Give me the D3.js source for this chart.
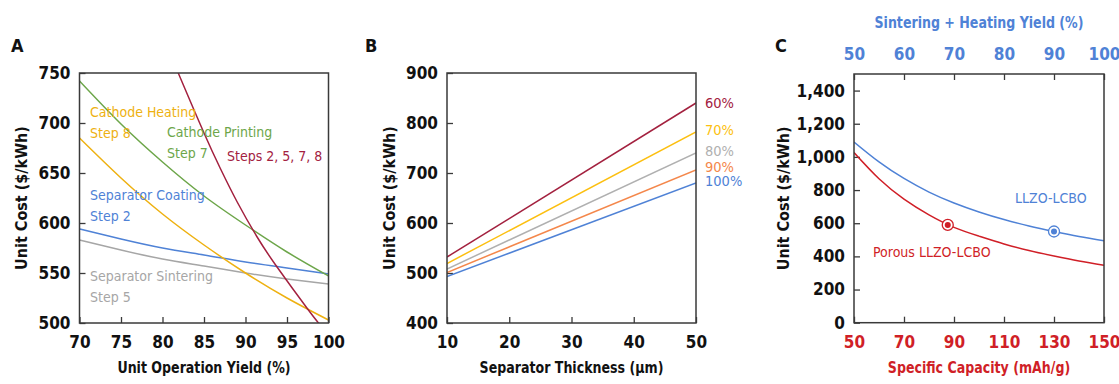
<!DOCTYPE html>
<html>
<head>
<meta charset="utf-8">
<title>Unit cost sensitivity</title>
<style>
  body { margin: 0; background: #fff; }
  svg text { font-family: "DejaVu Sans Condensed", "Liberation Sans Narrow", sans-serif; }
</style>
</head>
<body>
<script src="https://cdn.jsdelivr.net/npm/d3@7"></script>
<script>
// ---- Panel A: unit operation yield ----
const yieldA = [70, 75, 80, 85, 90, 95, 100];
const cathodeHeating = [685, 645, 609, 578, 550, 525, 503];
const cathodePrinting = [742, 699, 661, 627, 598, 571, 547];
const separatorCoating = [594, 584, 575, 568, 561, 555, 549];
const separatorSintering = [583, 573, 564, 557, 550, 544, 539];
const stepsYield = [81.5, 82, 85, 87, 89, 91.4, 93.8, 97.4, 98.8, 99.5];
const stepsAll = [758, 748, 690, 654, 621, 586, 556, 515, 500, 493];
const ticksAX = [70, 75, 80, 85, 90, 95, 100];
const ticksAY = [500, 550, 600, 650, 700, 750];

// ---- Panel B: separator thickness ----
const thickness = [10, 50];
const yieldLabelsB = ["60%", "70%", "80%", "90%", "100%"];
const costB60 = [532, 840];
const costB70 = [519, 782];
const costB80 = [508, 740];
const costB90 = [501, 706];
const costB100 = [493, 680];
const ticksBX = [10, 20, 30, 40, 50];
const ticksBY = [400, 500, 600, 700, 800, 900];

// ---- Panel C: specific capacity ----
const capacity = [50, 60, 70, 80, 90, 100, 110, 120, 130, 140, 150];
const costLLZO = [1090, 970, 870, 788, 722, 668, 622, 583, 550, 520, 494];
const costPorous = [1026, 868, 745, 650, 575, 522, 475, 435, 402, 372, 346];
const markLLZO = [130, 550];
const markPorous = [87.5, 590];
const ticksCX = [50, 70, 90, 110, 130, 150];
const ticksCTop = [50, 60, 70, 80, 90, 100];
const ticksCY = [0, 200, 400, 600, 800, 1000, 1200, 1400];

const W = 1119, H = 384;
const svg = d3.select("body").append("svg")
  .attr("width", W).attr("height", H)
  .style("display", "block");
svg.append("rect").attr("width", W).attr("height", H).attr("fill", "#fff");

const axisColor = "#3a3a3a";
const tickFont = 17;
const squeeze = 0.85; // titles use a narrow face in the original

function title(g, x, y, text, color, rotate) {
  g.append("text")
    .attr("transform", `translate(${x},${y})` + (rotate ? " rotate(-90)" : "") + ` scale(${squeeze},1)`)
    .attr("text-anchor", "middle").attr("font-size", 16.5).attr("font-weight", 700)
    .attr("fill", color).text(text);
}

function panel(opt) {
  const x = d3.scaleLinear().domain(opt.xDomain).range([opt.left, opt.right]);
  const y = d3.scaleLinear().domain(opt.yDomain).range([opt.bottom, opt.top]);
  const g = svg.append("g");

  // inward ticks
  const bottomAxis = d3.axisBottom(x).tickValues(opt.xTicks).tickSize(-6).tickFormat(opt.xFormat || d3.format("d"));
  const gx = g.append("g").attr("transform", `translate(0,${opt.bottom})`).call(bottomAxis);
  gx.select(".domain").remove();
  gx.selectAll(".tick line").attr("stroke", axisColor).attr("stroke-width", 1.3);
  gx.selectAll(".tick text").attr("y", 13).attr("dy", "0.71em")
    .attr("font-size", tickFont).attr("font-weight", 700)
    .attr("fill", opt.xColor || "#111");

  const leftAxis = d3.axisLeft(y).tickValues(opt.yTicks).tickSize(-6).tickFormat(opt.yFormat || d3.format("d"));
  const gy = g.append("g").attr("transform", `translate(${opt.left},0)`).call(leftAxis);
  gy.select(".domain").remove();
  gy.selectAll(".tick line").attr("stroke", axisColor).attr("stroke-width", 1.3);
  gy.selectAll(".tick text").attr("x", -9)
    .attr("font-size", tickFont).attr("font-weight", 700).attr("fill", "#111");

  // clipping for curves
  const clipId = "clip" + opt.id;
  svg.append("clipPath").attr("id", clipId).append("rect")
    .attr("x", opt.left).attr("y", opt.top)
    .attr("width", opt.right - opt.left).attr("height", opt.bottom - opt.top);
  const plot = g.append("g").attr("clip-path", `url(#${clipId})`);

  // frame
  g.append("rect").attr("x", opt.left).attr("y", opt.top)
    .attr("width", opt.right - opt.left).attr("height", opt.bottom - opt.top)
    .attr("fill", "none").attr("stroke", axisColor).attr("stroke-width", 1.5);

  // axis titles
  title(g, (opt.left + opt.right) / 2, 373, opt.xTitle, opt.xColor || "#111");
  g.append("text")
    .attr("transform", `translate(${opt.yTitleX},${(opt.top + opt.bottom) / 2}) rotate(-90)`)
    .attr("text-anchor", "middle").attr("font-size", 16).attr("font-weight", 700)
    .attr("fill", "#111")
    .text("Unit Cost ($/kWh)");

  // panel letter
  g.append("text").attr("x", opt.letterX).attr("y", 52)
    .attr("font-size", 18).attr("font-weight", 700).attr("fill", "#111")
    .text(opt.letter);

  return { x, y, g, plot };
}

function drawLine(p, xs, ys, color, curve) {
  const pts = xs.map((v, i) => [v, ys[i]]);
  p.plot.append("path")
    .datum(pts)
    .attr("fill", "none").attr("stroke", color).attr("stroke-width", 1.5)
    .attr("d", d3.line().x(d => p.x(d[0])).y(d => p.y(d[1])).curve(curve || d3.curveNatural));
}

function label(p, lines, xPix, yPix, color, size, lh) {
  lines.forEach((t, i) => {
    p.g.append("text").attr("x", xPix).attr("y", yPix + i * (lh || 21))
      .attr("font-size", size || 14).attr("fill", color).text(t);
  });
}

// ---- Panel A ----
const cYellow = "#eeb111", cGreen = "#6da64a", cMaroon = "#a3213f", cBlue = "#4f82d6", cGray = "#a6a6a6";
const A = panel({
  id: "A", letter: "A", letterX: 11,
  left: 79.5, right: 328.5, top: 73, bottom: 323,
  xDomain: [70, 100], yDomain: [500, 750],
  xTicks: ticksAX, yTicks: ticksAY,
  xTitle: "Unit Operation Yield (%)", yTitleX: 27
});
drawLine(A, yieldA, separatorSintering, cGray);
drawLine(A, yieldA, separatorCoating, cBlue);
drawLine(A, yieldA, cathodeHeating, cYellow);
drawLine(A, yieldA, cathodePrinting, cGreen);
drawLine(A, stepsYield, stepsAll, cMaroon);
label(A, ["Cathode Heating", "Step 8"], 90, 117, cYellow);
label(A, ["Cathode Printing", "Step 7"], 167, 137, cGreen);
label(A, ["Steps 2, 5, 7, 8"], 227, 161, cMaroon);
label(A, ["Separator Coating", "Step 2"], 90, 200, cBlue);
label(A, ["Separator Sintering", "Step 5"], 90, 281, cGray);

// ---- Panel B ----
const B = panel({
  id: "B", letter: "B", letterX: 365,
  left: 447, right: 696, top: 73, bottom: 323,
  xDomain: [10, 50], yDomain: [400, 900],
  xTicks: ticksBX, yTicks: ticksBY,
  xTitle: "Separator Thickness (\u00b5m)", yTitleX: 395
});
const seriesB = [costB60, costB70, costB80, costB90, costB100];
const colorsB = [cMaroon, "#fcbf10", "#b0b0b0", "#f4874b", cBlue];
const labelShiftB = [0, -2, -2, -3.5, -2.5];
seriesB.slice().reverse().forEach((s, i) => drawLine(B, thickness, s, colorsB[4 - i], d3.curveLinear));
seriesB.forEach((s, i) => {
  B.g.append("text")
    .attr("x", 705).attr("y", B.y(s[1]) + labelShiftB[i]).attr("dy", "0.35em")
    .attr("font-size", 14.5).attr("fill", colorsB[i]).text(yieldLabelsB[i]);
});

// ---- Panel C ----
const cRed = "#d01f27", cBlueC = "#4f82d6";
const C = panel({
  id: "C", letter: "C", letterX: 775,
  left: 854, right: 1104, top: 74, bottom: 322.7,
  xDomain: [50, 150], yDomain: [0, 1500],
  xTicks: ticksCX, yTicks: ticksCY,
  yFormat: d3.format(","), xColor: cRed,
  xTitle: "Specific Capacity (mAh/g)", yTitleX: 789
});
// top axis (sintering + heating yield)
const xTop = d3.scaleLinear().domain([50, 100]).range([854, 1104]);
const gTop = C.g.append("g").attr("transform", "translate(0,74)")
  .call(d3.axisTop(xTop).tickValues(ticksCTop).tickSize(-6));
gTop.select(".domain").remove();
gTop.selectAll(".tick line").attr("stroke", axisColor).attr("stroke-width", 1.3);
gTop.selectAll(".tick text").attr("y", -14)
  .attr("font-size", tickFont).attr("font-weight", 700).attr("fill", cBlueC);
title(C.g, 979, 28, "Sintering + Heating Yield (%)", cBlueC);

drawLine(C, capacity, costLLZO, cBlueC);
drawLine(C, capacity, costPorous, cRed);
[[markLLZO, cBlueC], [markPorous, cRed]].forEach(([m, col]) => {
  C.g.append("circle").attr("cx", C.x(m[0])).attr("cy", C.y(m[1])).attr("r", 5.5)
    .attr("fill", "#fff").attr("stroke", col).attr("stroke-width", 1.3);
  C.g.append("circle").attr("cx", C.x(m[0])).attr("cy", C.y(m[1])).attr("r", 3)
    .attr("fill", col);
});
label(C, ["LLZO-LCBO"], 1015, 203, cBlueC, 14);
label(C, ["Porous LLZO-LCBO"], 873, 257, cRed, 14);
</script>
</body>
</html>
